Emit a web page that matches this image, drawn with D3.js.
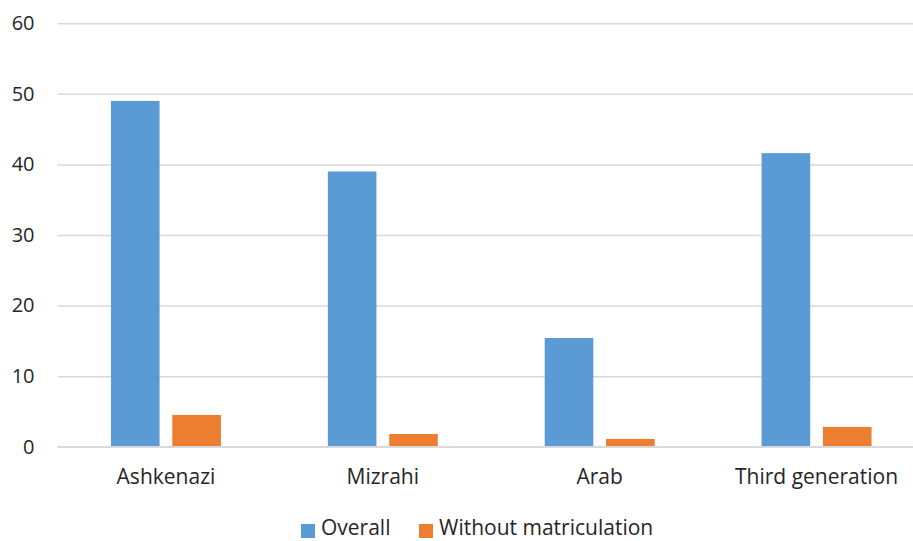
<!DOCTYPE html>
<html>
<head>
<meta charset="utf-8">
<script src="https://cdn.jsdelivr.net/npm/d3@7"></script>
<style>
  body { margin: 0; background: #fff; }
  svg text { font-family: "Open Sans", "Noto Sans", sans-serif; fill: #262626; }
</style>
</head>
<body>
<div id="chart"></div>
<script>
// Data
const categories = ['Ashkenazi', 'Mizrahi', 'Arab', 'Third generation'];
const seriesNames = ['Overall', 'Without matriculation'];
const overall = [49, 39, 15.4, 41.6];
const withoutMatric = [4.5, 1.8, 1.1, 2.8];
const yTicks = [0, 10, 20, 30, 40, 50, 60];
const colors = ['#5B9BD5', '#ED7D31'];

const W = 913, H = 541;
const plot = { left: 57.5, right: 925, top: 23.3, bottom: 446.7 };

const svg = d3.select('#chart')
  .append('svg')
    .attr('width', W)
    .attr('height', H);

// Scales
const x0 = d3.scaleBand()
  .domain(categories)
  .range([plot.left, plot.right])
  .paddingInner(0.493)
  .paddingOuter(0.2465);

const x1 = d3.scaleBand()
  .domain(seriesNames)
  .range([0, x0.bandwidth()])
  .paddingInner(0.208)
  .paddingOuter(0);

const y = d3.scaleLinear()
  .domain([0, 60])
  .range([plot.bottom, plot.top]);

// Gridlines + y labels
const yAxis = svg.append('g')
  .attr('transform', `translate(${plot.left},0)`)
  .call(d3.axisLeft(y)
    .tickValues(yTicks)
    .tickSize(-(plot.right - plot.left))
    .tickPadding(23));
yAxis.select('.domain').remove();
yAxis.selectAll('.tick line')
  .attr('stroke', '#d9d9d9')
  .attr('stroke-width', 1.5);
yAxis.selectAll('.tick text')
  .attr('font-size', 20)
  .attr('font-family', null)
  .attr('fill', '#262626');

// Bars
const rows = categories.map((c, i) => ({
  cat: c,
  vals: [overall[i], withoutMatric[i]],
}));

svg.append('g')
  .selectAll('g')
  .data(rows)
  .join('g')
    .attr('transform', d => `translate(${x0(d.cat)},0)`)
  .selectAll('rect')
  .data(d => d.vals.map((v, j) => ({ name: seriesNames[j], v, j })))
  .join('rect')
    .attr('x', d => x1(d.name))
    .attr('y', d => y(d.v))
    .attr('width', x1.bandwidth())
    .attr('height', d => y(0) - y(d.v))
    .attr('fill', d => colors[d.j]);

// Baseline
svg.append('line')
  .attr('x1', plot.left)
  .attr('x2', plot.right)
  .attr('y1', y(0))
  .attr('y2', y(0))
  .attr('stroke', '#d9d9d9')
  .attr('stroke-width', 1.5);

// X labels
const xAxis = svg.append('g')
  .attr('transform', `translate(0,${plot.bottom})`)
  .call(d3.axisBottom(x0).tickSize(0).tickPadding(22));
xAxis.select('.domain').remove();
xAxis.selectAll('.tick text')
  .attr('font-size', 21)
  .attr('font-family', null)
  .attr('fill', '#262626');

// Legend
const legendItems = [
  { name: seriesNames[0], color: colors[0], x: 301 },
  { name: seriesNames[1], color: colors[1], x: 419 },
];
const legend = svg.append('g');
legendItems.forEach(item => {
  legend.append('rect')
    .attr('x', item.x)
    .attr('y', 524)
    .attr('width', 14)
    .attr('height', 14)
    .attr('fill', item.color);
  legend.append('text')
    .attr('x', item.x + 20)
    .attr('y', 535)
    .attr('font-size', 21)
    .text(item.name);
});
</script>
</body>
</html>
